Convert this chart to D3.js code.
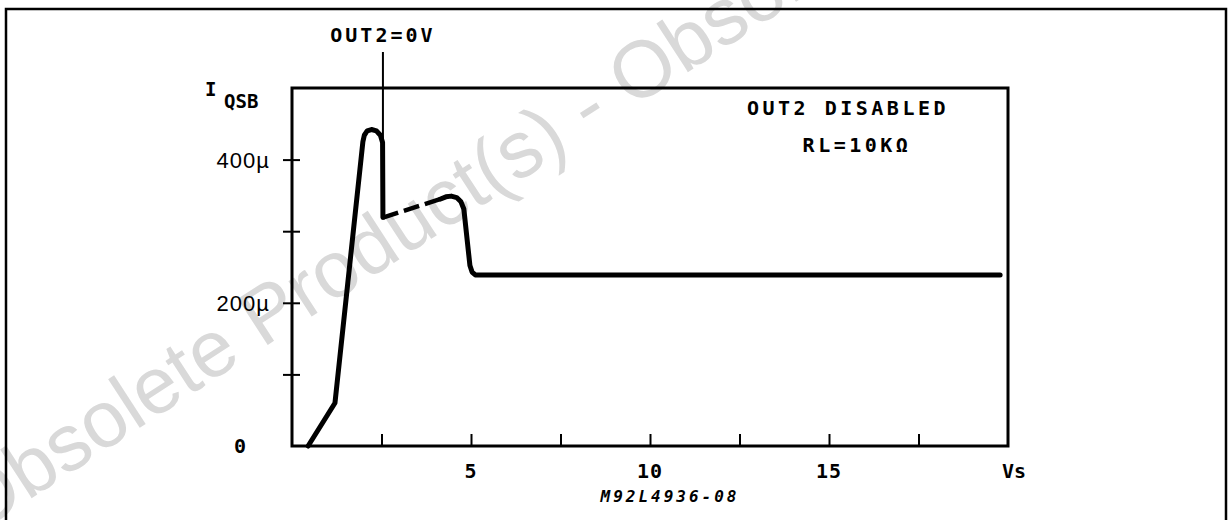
<!DOCTYPE html>
<html>
<head>
<meta charset="utf-8">
<script src="https://cdn.jsdelivr.net/npm/d3@7"></script>
<style>
  body { margin: 0; background: #fff; }
  svg { display: block; }
</style>
</head>
<body>
<div id="chart"></div>
<script>
// supply voltage (V) and standby quiescent current (µA)
const vsA = [0.45, 1.2, 1.98, 2.02, 2.1, 2.22, 2.36, 2.47, 2.53, 2.54];
const iqA = [0, 60, 425, 434, 440, 442, 440, 434, 424, 319];
const vsDash = [2.54, 4.15];
const iqDash = [319, 345];
const vsB = [4.15, 4.3, 4.45, 4.6, 4.72, 4.8, 4.97, 5.03, 5.12, 19.78];
const iqB = [345, 348, 349, 347, 341, 331, 252, 243, 239, 239];

const xTicks = [2.5, 5, 7.5, 10, 12.5, 15, 17.5];
const xLabels = [5, 10, 15];
const yTicks = [100, 200, 300, 400];
const yLabels = [[0, "0"], [200, "200\u00b5"], [400, "400\u00b5"]];
const markerVs = 2.54;

const width = 1228, height = 520;
const margin = {top: 88, right: 220, bottom: 74, left: 292};
const plotFont = "'DejaVu Sans Mono', monospace";

const svg = d3.select("#chart").append("svg")
  .attr("width", width).attr("height", height);

// watermark
svg.append("text")
  .attr("transform", "translate(-25,535) rotate(-33)")
  .attr("font-family", "'Liberation Sans', Arial, sans-serif")
  .attr("font-size", 80)
  .attr("fill", "#d9d9d9")
  .text("Obsolete Product(s) - Obsolete Product(s)");

// outer border
svg.append("path")
  .attr("d", `M6,${height + 5}V9H1226V${height + 5}`)
  .attr("fill", "none").attr("stroke", "#000").attr("stroke-width", 2.5);

const w = width - margin.left - margin.right;
const h = height - margin.top - margin.bottom;
const x = d3.scaleLinear().domain([0, 20]).range([0, w]);
const y = d3.scaleLinear().domain([0, 500]).range([h, 0]);

const g = svg.append("g").attr("transform", `translate(${margin.left},${margin.top})`);

// x ticks (inner)
const xAxis = g.append("g").attr("transform", `translate(0,${h})`)
  .call(d3.axisBottom(x).tickValues(xTicks).tickSize(-12).tickFormat(""));
xAxis.select(".domain").remove();
xAxis.selectAll("line").attr("stroke", "#000").attr("stroke-width", 2);

// y ticks (crossing)
const yAxis = g.append("g")
  .call(d3.axisLeft(y).tickValues(yTicks).tickSize(9).tickFormat(""));
yAxis.select(".domain").remove();
yAxis.selectAll("line").attr("stroke", "#000").attr("stroke-width", 2).attr("x2", 8).attr("x1", -9);

// frame
g.append("rect").attr("width", w).attr("height", h)
  .attr("fill", "none").attr("stroke", "#000").attr("stroke-width", 3);

// x labels
g.selectAll(".xl").data(xLabels).join("text")
  .attr("x", d => x(d)).attr("y", h + 32)
  .attr("text-anchor", "middle")
  .attr("font-family", plotFont).attr("font-weight", "bold").attr("font-size", 20)
  .attr("letter-spacing", 1)
  .text(d => d);
g.append("text").attr("x", x(20) + 6).attr("y", h + 32)
  .attr("text-anchor", "middle")
  .attr("font-family", plotFont).attr("font-weight", "bold").attr("font-size", 20)
  .text("Vs");

// y labels
g.selectAll(".yl").data(yLabels).join("text")
  .attr("x", d => d[0] === 0 ? -52 : -22)
  .attr("y", d => y(d[0]) + (d[0] === 0 ? 7 : 8))
  .attr("text-anchor", d => d[0] === 0 ? "middle" : "end")
  .attr("font-family", d => d[0] === 0 ? plotFont : "'Liberation Sans', Arial, sans-serif")
  .attr("font-weight", d => d[0] === 0 ? "bold" : "normal")
  .attr("font-size", d => d[0] === 0 ? 20 : 22)
  .attr("letter-spacing", d => d[0] === 0 ? 0 : 1)
  .text(d => d[1]);

// axis title
g.append("text").attr("x", -87).attr("y", 8)
  .attr("font-family", plotFont).attr("font-weight", "bold").attr("font-size", 19)
  .text("I");
g.append("text").attr("x", -68).attr("y", 20)
  .attr("font-family", plotFont).attr("font-weight", "bold").attr("font-size", 19)
  .text("QSB");

// curve
const line = d3.line().x(d => x(d[0])).y(d => y(d[1]));
const pts = (xs, ys) => xs.map((v, i) => [v, ys[i]]);

g.append("path").datum(pts(vsA, iqA)).attr("d", line)
  .attr("fill", "none").attr("stroke", "#000").attr("stroke-width", 5)
  .attr("stroke-linejoin", "round").attr("stroke-linecap", "round");
g.append("path").datum(pts(vsDash, iqDash)).attr("d", line)
  .attr("fill", "none").attr("stroke", "#000").attr("stroke-width", 4.5)
  .attr("stroke-dasharray", "16,6");
g.append("path").datum(pts(vsB, iqB)).attr("d", line)
  .attr("fill", "none").attr("stroke", "#000").attr("stroke-width", 5)
  .attr("stroke-linejoin", "round").attr("stroke-linecap", "round");

// OUT2=0V marker
g.append("line")
  .attr("x1", x(markerVs)).attr("x2", x(markerVs))
  .attr("y1", 52 - margin.top).attr("y2", y(iqDash[0]))
  .attr("stroke", "#000").attr("stroke-width", 2);
g.append("text").attr("x", x(markerVs)).attr("y", 42 - margin.top)
  .attr("text-anchor", "middle")
  .attr("font-family", plotFont).attr("font-weight", "bold").attr("font-size", 20)
  .attr("letter-spacing", 3)
  .text("OUT2=0V");

// annotations
g.append("text").attr("x", 848 - margin.left).attr("y", 115 - margin.top)
  .attr("text-anchor", "middle")
  .attr("font-family", plotFont).attr("font-weight", "bold").attr("font-size", 20)
  .attr("letter-spacing", 3.5)
  .text("OUT2 DISABLED");
g.append("text").attr("x", 857 - margin.left).attr("y", 152 - margin.top)
  .attr("text-anchor", "middle")
  .attr("font-family", plotFont).attr("font-weight", "bold").attr("font-size", 20)
  .attr("letter-spacing", 3.5)
  .text("RL=10K\u03a9");

// figure code
svg.append("text").attr("x", 670).attr("y", 502)
  .attr("text-anchor", "middle")
  .attr("font-family", plotFont).attr("font-weight", "bold").attr("font-style", "italic")
  .attr("font-size", 16).attr("letter-spacing", 3)
  .text("M92L4936-08");
</script>
</body>
</html>
